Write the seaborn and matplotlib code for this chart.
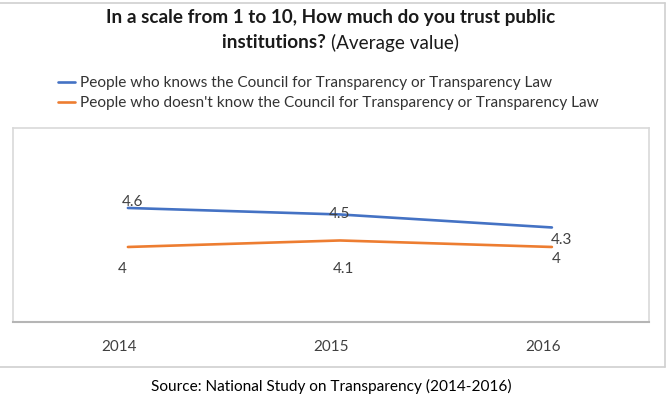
import pandas as pd
import seaborn as sns
import matplotlib.pyplot as plt
import matplotlib.transforms as mtransforms
from matplotlib.lines import Line2D

# datos
years = ["2014", "2015", "2016"]
knows = [4.6, 4.5, 4.3]
doesnt_know = [4.0, 4.1, 4.0]
series_names = [
    "People who knows the Council for Transparency or Transparency Law",
    "People who doesn't know the Council for Transparency or Transparency Law",
]
colors = ["#4472C4", "#ED7D31"]

df = pd.DataFrame({
    "year": years * 2,
    "value": knows + doesnt_know,
    "serie": [series_names[0]] * 3 + [series_names[1]] * 3,
})

sns.set_style("white")
plt.rcParams["font.family"] = ["Lato", "DejaVu Sans"]

W, H = 669, 396
fig = plt.figure(figsize=(W / 100, H / 100), dpi=100)
ax = fig.add_axes([13 / W, 1 - 322 / H, 636 / W, 194 / H])

sns.lineplot(data=df, x="year", y="value", hue="serie", palette=colors,
             linewidth=1.9, sort=False, ax=ax, legend=True)

ax.set_xlim(-0.542, 2.458)
ax.set_ylim(2.846, 5.83)
ax.set_yticks([])
ax.set_xlabel("")
ax.set_ylabel("")
ax.tick_params(axis="x", length=0, pad=13, labelsize=11, labelcolor="#404040")
# etiquetas del eje x un poco a la izquierda, como en el original
shift = mtransforms.ScaledTranslation(-9 / 100, 0, fig.dpi_scale_trans)
for lbl in ax.get_xticklabels():
    lbl.set_transform(lbl.get_transform() + shift)

for side in ["top", "left", "right"]:
    ax.spines[side].set_color("#d9d9d9")
    ax.spines[side].set_linewidth(1.2)
ax.spines["bottom"].set_color("#b5b5b5")
ax.spines["bottom"].set_linewidth(1.5)

# etiquetas de datos (desplazamiento en px)
off_knows = [(5, 6), (0, 0), (10, -13)]
off_doesnt = [(-6, -22), (4, -29), (4, -12)]
for i, (v, off) in enumerate(zip(knows, off_knows)):
    ax.annotate(f"{v:g}", (i, v), xytext=(off[0] * 0.72, off[1] * 0.72),
                textcoords="offset points", ha="center", va="center",
                fontsize=11, color="#404040")
for i, (v, off) in enumerate(zip(doesnt_know, off_doesnt)):
    ax.annotate(f"{v:g}", (i, v), xytext=(off[0] * 0.72, off[1] * 0.72),
                textcoords="offset points", ha="center", va="center",
                fontsize=11, color="#404040")

# leyenda
handles, labels = ax.get_legend_handles_labels()
ax.get_legend().remove()
fig.legend(handles, labels, loc="upper left", bbox_to_anchor=(58 / W, 1 - 76 / H),
           frameon=False, fontsize=11.1, handlelength=1.1, handletextpad=0.3,
           labelspacing=0.4, borderpad=0, borderaxespad=0, labelcolor="#333333")

# titulo
fig.text(331 / W, 1 - 17 / H, "In a scale from 1 to 10, How much do you trust public",
         ha="center", va="center", fontsize=13.6, fontweight="bold", color="#1a1a1a")
fig.text(331 / W, 1 - 43 / H, "institutions? ", ha="right", va="center",
         fontsize=13.6, fontweight="bold", color="#1a1a1a")
fig.text(331 / W, 1 - 43 / H, "(Average value)", ha="left", va="center",
         fontsize=13.6, color="#1a1a1a")

fig.text(331 / W, 1 - 386 / H, "Source: National Study on Transparency (2014-2016)",
         ha="center", va="center", fontsize=11.1, color="black")

# marco exterior
frame = dict(color="#d0d0d0", linewidth=1.2, transform=fig.transFigure)
fig.add_artist(Line2D([0, 665 / W], [1 - 3 / H, 1 - 3 / H], **frame))
fig.add_artist(Line2D([665 / W, 665 / W], [1 - 3 / H, 1 - 367 / H], **frame))
fig.add_artist(Line2D([0, 665 / W], [1 - 367 / H, 1 - 367 / H], **frame))

fig.savefig("out.png", dpi=100)
